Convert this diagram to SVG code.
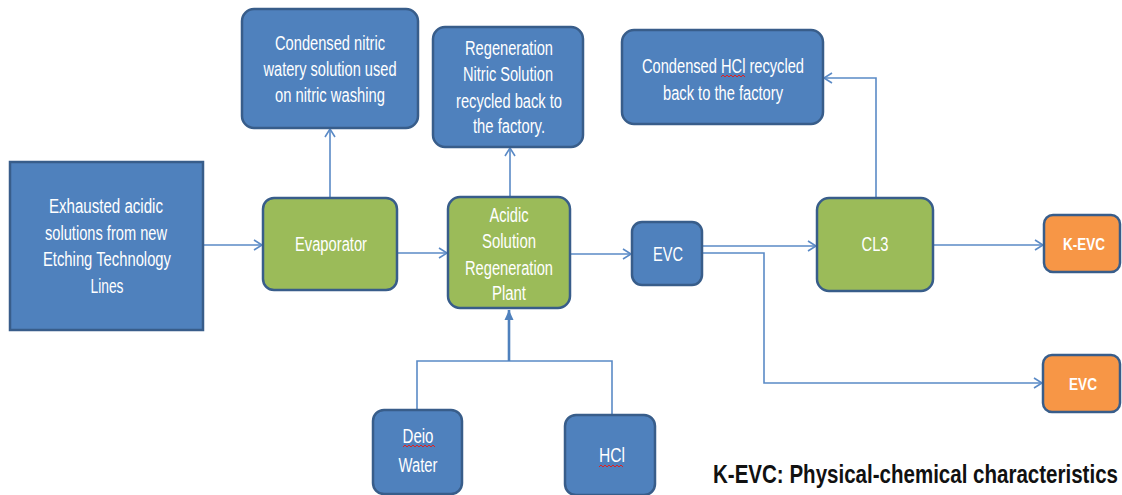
<svg xmlns="http://www.w3.org/2000/svg" width="1122" height="495" viewBox="0 0 1122 495">
<style>
.blue{fill:#4F81BD;stroke:#385D8A;stroke-width:2.5}
.green{fill:#9BBB59;stroke:#385D8A;stroke-width:2.5}
.orange{fill:#F79646;stroke:#385D8A;stroke-width:2.5}
.t{font-family:"Liberation Sans Narrow","Liberation Sans",Arial,sans-serif;font-size:20px;fill:#FFFFFF;text-anchor:middle}
.tb{font-family:"Liberation Sans Narrow","Liberation Sans",Arial,sans-serif;font-size:17px;font-weight:bold;fill:#FFFFFF;text-anchor:middle}
.c{fill:none;stroke:#5A8AC6;stroke-width:1.6}
.sq{fill:none;stroke:#E02020;stroke-width:1}
</style>
<defs>
<marker id="open" markerWidth="12" markerHeight="12" refX="10" refY="6" orient="auto" markerUnits="userSpaceOnUse">
<path d="M2,1 L10,6 L2,11" fill="none" stroke="#5A8AC6" stroke-width="1.6"/>
</marker>
<marker id="fill" markerWidth="12" markerHeight="12" refX="10" refY="6" orient="auto" markerUnits="userSpaceOnUse">
<path d="M0,1.5 L10,6 L0,10.5 Z" fill="#4F81BD"/>
</marker>
</defs>
<rect width="1122" height="495" fill="#FFFFFF"/>
<g id="connectors">
<path class="c" d="M203,245 H262" marker-end="url(#open)"/>
<path class="c" d="M330,198 V129" marker-end="url(#open)"/>
<path class="c" d="M397,253 H447" marker-end="url(#open)"/>
<path class="c" d="M510,197 V148" marker-end="url(#open)"/>
<path class="c" d="M570,254 H631" marker-end="url(#open)"/>
<path class="c" d="M702,246 H816" marker-end="url(#open)"/>
<path class="c" d="M702,253 H764 V383 H1042" marker-end="url(#open)"/>
<path class="c" d="M876,198 V78 H824" marker-end="url(#open)"/>
<path class="c" d="M933,245 H1043" marker-end="url(#open)"/>
<path class="c" d="M417,410 V361 H612 V415"/>
<path d="M509,361 V310" fill="none" stroke="#4F81BD" stroke-width="2.6" marker-end="url(#fill)"/>
</g>
<g id="exhausted">
<rect class="blue" x="10" y="162" width="193" height="168"/>
<text class="t"><tspan x="106" y="213" textLength="114" lengthAdjust="spacingAndGlyphs">Exhausted  acidic</tspan><tspan x="106" y="240" textLength="122" lengthAdjust="spacingAndGlyphs">solutions from new</tspan><tspan x="107" y="266" textLength="128" lengthAdjust="spacingAndGlyphs">Etching Technology</tspan><tspan x="107" y="293" textLength="33" lengthAdjust="spacingAndGlyphs">Lines</tspan></text>
</g>
<g id="evaporator">
<rect class="green" x="263" y="198" width="134" height="92" rx="11"/>
<text class="t" x="331" y="251" textLength="72" lengthAdjust="spacingAndGlyphs">Evaporator</text>
</g>
<g id="condensed-nitric">
<rect class="blue" x="242" y="9" width="176" height="119" rx="12"/>
<text class="t"><tspan x="330" y="50" textLength="110" lengthAdjust="spacingAndGlyphs">Condensed nitric</tspan><tspan x="330" y="76" textLength="133" lengthAdjust="spacingAndGlyphs">watery solution used</tspan><tspan x="330" y="102" textLength="110" lengthAdjust="spacingAndGlyphs">on nitric washing</tspan></text>
</g>
<g id="regeneration-nitric">
<rect class="blue" x="433" y="27" width="150" height="120" rx="12"/>
<text class="t"><tspan x="509" y="55" textLength="88" lengthAdjust="spacingAndGlyphs">Regeneration</tspan><tspan x="508" y="81" textLength="90" lengthAdjust="spacingAndGlyphs">Nitric Solution</tspan><tspan x="509" y="108" textLength="106" lengthAdjust="spacingAndGlyphs">recycled back to</tspan><tspan x="509" y="133" textLength="72" lengthAdjust="spacingAndGlyphs">the factory.</tspan></text>
</g>
<g id="acidic-plant">
<rect class="green" x="448" y="197" width="122" height="111" rx="12"/>
<text class="t"><tspan x="509" y="222" textLength="39" lengthAdjust="spacingAndGlyphs">Acidic</tspan><tspan x="509" y="248" textLength="54" lengthAdjust="spacingAndGlyphs">Solution</tspan><tspan x="509" y="275" textLength="88" lengthAdjust="spacingAndGlyphs">Regeneration</tspan><tspan x="509" y="300" textLength="34" lengthAdjust="spacingAndGlyphs">Plant</tspan></text>
</g>
<g id="evc-blue">
<rect class="blue" x="632" y="222" width="70" height="63" rx="10"/>
<text class="t" x="668" y="261" textLength="30" lengthAdjust="spacingAndGlyphs">EVC</text>
</g>
<g id="condensed-hcl">
<rect class="blue" x="622" y="30" width="201" height="94" rx="12"/>
<text class="t"><tspan x="723" y="73" textLength="162" lengthAdjust="spacingAndGlyphs">Condensed HCl recycled</tspan><tspan x="723" y="100" textLength="120" lengthAdjust="spacingAndGlyphs">back to the factory</tspan></text>
<path class="sq" d="M721,77 l2,-2 l2,2 l2,-2 l2,2 l2,-2 l2,2 l2,-2 l2,2 l2,-2 l2,2 l2,-2 l2,2"/>
</g>
<g id="cl3">
<rect class="green" x="817" y="198" width="116" height="93" rx="12"/>
<text class="t" x="875" y="251" textLength="27" lengthAdjust="spacingAndGlyphs">CL3</text>
</g>
<g id="k-evc">
<rect class="orange" x="1044" y="215" width="76" height="57" rx="9"/>
<text class="tb" x="1084" y="250" textLength="42" lengthAdjust="spacingAndGlyphs">K-EVC</text>
</g>
<g id="evc-orange">
<rect class="orange" x="1043" y="355" width="77" height="57" rx="9"/>
<text class="tb" x="1083" y="390" textLength="28" lengthAdjust="spacingAndGlyphs">EVC</text>
</g>
<g id="deio-water">
<rect class="blue" x="373" y="410" width="89" height="84" rx="11"/>
<text class="t"><tspan x="418" y="443" textLength="31" lengthAdjust="spacingAndGlyphs">Deio</tspan><tspan x="418" y="472" textLength="39" lengthAdjust="spacingAndGlyphs">Water</tspan></text>
<path class="sq" d="M403,447 l2,-2 l2,2 l2,-2 l2,2 l2,-2 l2,2 l2,-2 l2,2 l2,-2 l2,2 l2,-2 l2,2 l2,-2 l2,2 l2,-2 l2,2"/>
</g>
<g id="hcl">
<rect class="blue" x="565" y="415" width="90" height="80" rx="11"/>
<text class="t" x="612" y="462" textLength="26" lengthAdjust="spacingAndGlyphs">HCl</text>
<path class="sq" d="M599,467 l2,-2 l2,2 l2,-2 l2,2 l2,-2 l2,2 l2,-2 l2,2 l2,-2 l2,2 l2,-2 l2,2"/>
</g>
<text transform="translate(713,483) scale(0.75,1)" x="0" y="0" font-family="'Liberation Sans Narrow','Liberation Sans',Arial,sans-serif" font-size="26" font-weight="bold" fill="#111111" textLength="540" lengthAdjust="spacingAndGlyphs">K-EVC: Physical-chemical characteristics</text>
</svg>
